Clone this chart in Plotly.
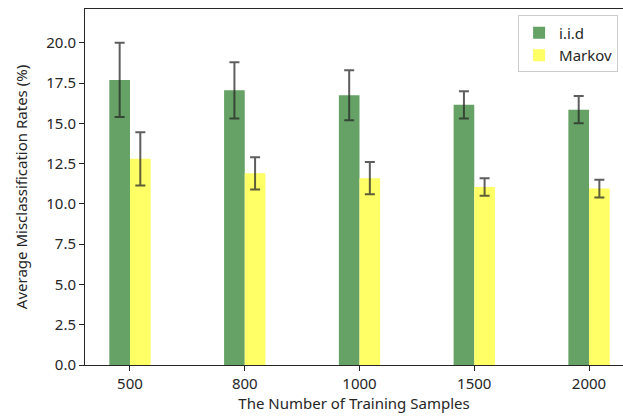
import plotly.graph_objects as go

samples = ["500", "800", "1000", "1500", "2000"]
iid_rate = [17.7, 17.05, 16.75, 16.15, 15.85]
iid_err = [2.3, 1.75, 1.55, 0.85, 0.85]
markov_rate = [12.8, 11.9, 11.6, 11.05, 10.95]
markov_err = [1.65, 1.0, 1.0, 0.55, 0.55]
y_ticks = [0, 2.5, 5, 7.5, 10, 12.5, 15, 17.5, 20]

idx = list(range(len(samples)))
bar_w = 0.18
err_style = dict(type="data", visible=True, color="rgba(40,40,40,0.75)", thickness=2, width=5)

fig = go.Figure()
fig.add_trace(go.Bar(
    x=idx, y=iid_rate, name="i.i.d", width=bar_w, offset=-bar_w,
    marker=dict(color="#66a266", line=dict(width=0)),
    error_y=dict(array=iid_err, **err_style),
))
fig.add_trace(go.Bar(
    x=idx, y=markov_rate, name="Markov", width=bar_w, offset=0,
    marker=dict(color="#ffff66", line=dict(width=0)),
    error_y=dict(array=markov_err, **err_style),
))

font = dict(family="Noto Sans", size=15, color="#262626")
fig.update_layout(
    width=623, height=416,
    margin=dict(l=85, r=0, t=9, b=51),
    plot_bgcolor="white", paper_bgcolor="white",
    barmode="overlay",
    font=font,
    showlegend=True,
    legend=dict(
        x=0.805, y=0.982, xanchor="left", yanchor="top",
        bgcolor="rgba(255,255,255,0.8)", bordercolor="#cccccc", borderwidth=1,
        font=font, itemsizing="constant", tracegroupgap=0,
    ),
    xaxis=dict(
        tickmode="array", tickvals=idx, ticktext=samples,
        range=[-0.392, 4.296],
        showline=True, linecolor="#262626", linewidth=1, mirror=True,
        ticks="outside", ticklen=5, tickcolor="#262626",
        showgrid=False, zeroline=False,
        title=dict(text="The Number of Training Samples", standoff=1, font=font),
    ),
    yaxis=dict(
        range=[0, 22.1],
        tickmode="array", tickvals=y_ticks, ticktext=[f"{v:.1f}" for v in y_ticks],
        showline=True, linecolor="#262626", linewidth=1,
        ticks="outside", ticklen=5, tickcolor="#262626",
        showgrid=False, zeroline=False,
        title=dict(text="Average Misclassification Rates (%)", standoff=14, font=font),
    ),
)

fig.write_html("out.html")
